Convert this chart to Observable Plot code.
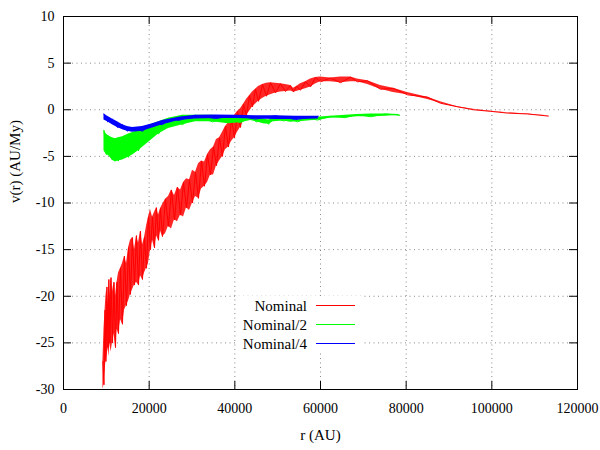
<!DOCTYPE html>
<html>
<head>
<meta charset="utf-8">
<script src="https://cdn.jsdelivr.net/npm/d3@7"></script>
<script src="https://cdn.jsdelivr.net/npm/@observablehq/plot@0.6"></script>
<style>
  body { margin: 0; background: white; }
  #chart { width: 600px; height: 450px; }
</style>
</head>
<body>
<div id="chart"></div>
<script>
// ---- data ----
const xTicks = [0, 20000, 40000, 60000, 80000, 100000, 120000];
const yTicks = [-30, -25, -20, -15, -10, -5, 0, 5, 10];
const seriesNames = ["Nominal", "Nominal/2", "Nominal/4"];
const seriesColors = ["#ff0000", "#00ff00", "#0000ff"];

// Nominal: r (AU), upper and lower extent of the noisy curve (AU/My)
const redR  = [9200, 9450, 9700, 9900, 10150, 10400, 10600, 10850, 11100, 11440, 11790, 12140, 12490, 12840, 13310, 13770, 14240, 14710, 15180, 15640, 16110, 16580, 17040, 17510, 17980, 18440, 18910, 19380, 19840, 20310, 20780, 21250, 21710, 22180, 22650, 23110, 23810, 24510, 25210, 25910, 26610, 27320, 28020, 28720, 29420, 30120, 30820, 31520, 32220, 32920, 33620, 34320, 35020, 35720, 36420, 37120, 37820, 38520, 39220, 39920, 40620, 41320, 42020, 42720, 43420, 44120, 44820, 45530, 46460, 47390, 48330, 49490, 50660, 51830, 53000, 53700, 54400, 55330, 56500, 57670, 58830, 60000, 62300, 64700, 67000, 68600, 71000, 74000, 77000, 80300, 85000, 88000, 92000, 95700, 99700, 103700, 108300, 113200];
const redHi = [-27, -23.5, -21.5, -20, -19, -21, -18.2, -20, -18, -19.5, -18.5, -20, -18.5, -17.5, -17, -16.5, -15.7, -16.5, -14.8, -14, -13.7, -15, -13.5, -14.3, -13, -14.5, -13.7, -12.5, -11.5, -10.7, -11.5, -11, -10.5, -11.3, -10.6, -10.2, -9.6, -9.3, -8.6, -9.2, -8.3, -8.6, -7.8, -7.4, -7.5, -6.5, -6.7, -5.8, -5.5, -5.6, -4.8, -4.3, -4, -3.2, -3, -2.4, -1.8, -1.4, -1, -0.6, -0.2, 0.1, 0.6, 1.1, 1.5, 1.9, 2.2, 2.5, 2.7, 2.85, 2.9, 2.85, 2.8, 2.7, 2.6, 2.3, 2.5, 2.8, 3.0, 3.3, 3.45, 3.5, 3.4, 3.5, 3.5, 3.3, 3.1, 2.6, 2.3, 1.85, 1.35, 0.85, 0.32, 0.05, -0.17, -0.31, -0.45, -0.63];
const redLo = [-30, -29.5, -28, -27, -26.5, -25.5, -26.5, -25, -26, -25, -24, -25.5, -23.5, -24, -22.5, -23, -21.5, -21, -20.5, -19.8, -19.3, -18.8, -18.5, -18.8, -17.8, -18.2, -17.5, -17, -16.5, -15, -14, -14.8, -13.5, -14, -13, -13.6, -13.3, -12.5, -12.8, -11.8, -12, -11.3, -11.5, -10.5, -10.8, -10, -9.3, -9.5, -8.5, -8.2, -7.8, -7, -7, -6, -5.5, -5, -4.3, -4, -3.4, -3, -2.4, -1.9, -1.2, -0.6, -0.2, 0.3, 0.6, 0.9, 1.2, 1.45, 1.6, 1.8, 1.9, 1.95, 2.0, 1.9, 1.95, 2.1, 2.25, 2.45, 2.75, 3.0, 3.0, 2.9, 3.0, 3.0, 2.7, 2.2, 1.85, 1.6, 1.1, 0.7, 0.25, 0.0, -0.22, -0.36, -0.5, -0.68];

// Nominal/2
const greenR  = [9450, 10000, 10500, 11400, 12100, 12800, 13800, 15200, 16300, 17500, 19800, 22200, 24500, 27800, 30800, 34800, 38500, 41300, 43700, 45000, 46700, 47900, 49000, 51400, 53000, 54600, 57000, 59300, 62300, 65800, 68600, 71700, 75200, 78500];
const greenHi = [-2.2, -2.6, -2.8, -3.0, -3.1, -3.0, -2.9, -2.6, -2.4, -2.2, -1.7, -1.3, -0.9, -0.6, -0.6, -0.6, -0.8, -0.7, -0.8, -0.9, -1.0, -1.1, -0.8, -0.9, -1.0, -1.1, -0.9, -0.8, -0.7, -0.6, -0.5, -0.45, -0.45, -0.5];
const greenLo = [-4.4, -4.8, -4.9, -5.4, -5.6, -5.5, -5.4, -5.1, -4.8, -4.4, -3.5, -2.6, -2.0, -1.6, -1.3, -1.3, -1.5, -1.4, -1.15, -1.3, -1.5, -1.55, -1.3, -1.2, -1.35, -1.3, -1.2, -1.1, -0.9, -0.85, -0.75, -0.75, -0.7, -0.6];

// Nominal/4
const blueR  = [9450, 10300, 11400, 12600, 13800, 14900, 16100, 18400, 20800, 23100, 25000, 26900, 30800, 35500, 40200, 44800, 49500, 54200, 59500];
const blueHi = [-0.45, -0.7, -1.0, -1.3, -1.6, -1.8, -1.9, -1.8, -1.5, -1.15, -1.0, -0.8, -0.6, -0.55, -0.6, -0.65, -0.65, -0.7, -0.7];
const blueLo = [-1.1, -1.3, -1.6, -1.9, -2.15, -2.3, -2.4, -2.3, -1.95, -1.6, -1.4, -1.15, -1.0, -0.95, -0.95, -1.0, -1.05, -1.05, -1.0];

// ---- build tables for the library ----
function band(r, hi, lo) {
  return r.map((x, i) => ({r: x, hi: hi[i], lo: lo[i], v: i % 2 ? lo[i] : hi[i]}));
}
const series = [
  band(redR, redHi, redLo),
  band(greenR, greenHi, greenLo),
  band(blueR, blueHi, blueLo)
];
const fillOpacities = [0.85, 1, 1];
const FONT = "Liberation Serif";

const W = 600, H = 450;
const mL = 63, mR = 23, mT = 16, mB = 61;
const fw = W - mL - mR, fh = H - mT - mB;
const tick = 8;
const innerX = xTicks.slice(1, -1), innerY = yTicks.slice(1, -1);

const marks = [
  Plot.ruleX(innerX, {stroke: "#888888", strokeDasharray: "1,3.5"}),
  Plot.ruleY(innerY, {stroke: "#888888", strokeDasharray: "1,3.5"})
];
series.forEach((d, k) => {
  marks.push(Plot.areaY(d, {x: "r", y1: "lo", y2: "hi", fill: seriesColors[k], fillOpacity: fillOpacities[k], curve: "linear"}));
  marks.push(Plot.line(d, {x: "r", y: "v", stroke: seriesColors[k], strokeWidth: 1}));
});
marks.push(
  Plot.frame({stroke: "black", strokeWidth: 1}),
  Plot.ruleX(xTicks, {stroke: "black", insetTop: fh - tick}),
  Plot.ruleX(xTicks, {stroke: "black", insetBottom: fh - tick}),
  Plot.ruleY(yTicks, {stroke: "black", insetRight: fw - tick}),
  Plot.ruleY(yTicks, {stroke: "black", insetLeft: fw - tick}),
  Plot.axisX({ticks: xTicks, tickSize: 0, tickPadding: 14, tickFormat: d => String(d), label: null, fontFamily: FONT, fontSize: 14}),
  Plot.axisY({ticks: yTicks, tickSize: 0, tickPadding: 9, tickFormat: d => String(d), label: null, fontFamily: FONT, fontSize: 14}),
  Plot.text(["r (AU)"], {frameAnchor: "bottom", dy: 50, fontSize: 15, fontFamily: FONT}),
  Plot.text(["v(r) (AU/My)"], {frameAnchor: "left", dx: -48, rotate: -90, fontSize: 15, fontFamily: FONT})
);

const chart = Plot.plot({
  width: W, height: H,
  marginLeft: mL, marginRight: mR, marginTop: mT, marginBottom: mB,
  x: {domain: [0, 120000]},
  y: {domain: [-30, 10]},
  style: {fontFamily: FONT, fontSize: "14px", background: "white", overflow: "visible"},
  marks
});
document.getElementById("chart").appendChild(chart);

// ---- key (opaque box inside the plot) ----
const svg = d3.select(chart);
const key = svg.append("g").attr("font-family", FONT).attr("font-size", 15);
key.append("rect").attr("x", 236).attr("y", 296).attr("width", 126).attr("height", 56).attr("fill", "white");
seriesNames.forEach((name, i) => {
  const y = 305.5 + i * 19;
  key.append("text").attr("x", 307).attr("y", y).attr("dy", "0.35em").attr("text-anchor", "end").attr("fill", "black").text(name);
  key.append("line").attr("x1", 316).attr("x2", 355).attr("y1", y).attr("y2", y).attr("stroke", seriesColors[i]).attr("stroke-width", 1);
});
</script>
</body>
</html>
